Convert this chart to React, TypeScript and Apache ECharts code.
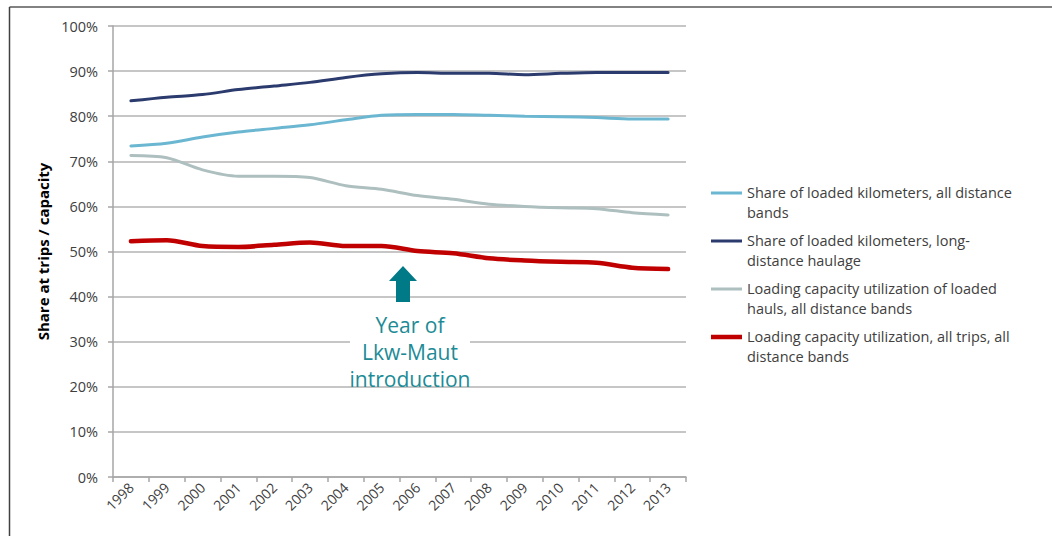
import React, { useEffect, useRef } from "react";
import * as echarts from "echarts";

const years = ["1998","1999","2000","2001","2002","2003","2004","2005","2006","2007","2008","2009","2010","2011","2012","2013"];
const yTicks = [0, 10, 20, 30, 40, 50, 60, 70, 80, 90, 100];

const seriesNames = [
  "Share of loaded kilometers, all distance\nbands",
  "Share of loaded kilometers, long-\ndistance haulage",
  "Loading capacity utilization of loaded\nhauls, all distance bands",
  "Loading capacity utilization, all trips, all\ndistance bands",
];

const shareAll = [73.4, 74.0, 75.4, 76.5, 77.3, 78.1, 79.2, 80.2, 80.4, 80.4, 80.2, 80.0, 79.9, 79.7, 79.4, 79.4];
const shareLong = [83.4, 84.2, 84.8, 85.9, 86.7, 87.5, 88.6, 89.4, 89.7, 89.5, 89.5, 89.2, 89.5, 89.7, 89.7, 89.7];
const utilLoaded = [71.3, 70.8, 68.1, 66.7, 66.7, 66.4, 64.6, 63.8, 62.4, 61.6, 60.5, 60.0, 59.7, 59.5, 58.6, 58.1];
const utilAll = [52.3, 52.5, 51.2, 51.0, 51.5, 52.0, 51.2, 51.2, 50.1, 49.6, 48.5, 48.0, 47.7, 47.5, 46.4, 46.1];

const colors = ["#6BB7D1", "#2C3B6E", "#AEBFBF", "#C00000"];
const widths = [3, 3, 3, 4.5];
const annotationLines = ["Year of", "Lkw-Maut", "introduction"];

const FONT = "'Open Sans', 'Noto Sans', sans-serif";

export default function App() {
  const ref = useRef<HTMLDivElement>(null);
  useEffect(() => {
    if (!ref.current) return;
    const chart = echarts.init(ref.current, undefined, { renderer: "svg" });
    const data = [shareAll, shareLong, utilLoaded, utilAll];
    const iconFor = (t: number) =>
      `path://M0,0h0.01v0.01h-0.01z M6,${9.5 - t / 2}h31v${t}h-31z M37,38h0.01v0.01h-0.01z`;
    chart.setOption({
      animation: false,
      backgroundColor: "#ffffff",
      textStyle: { fontFamily: FONT },
      grid: { left: 113, right: 366, top: 26, bottom: 59, containLabel: false },
      xAxis: {
        type: "category",
        data: years,
        boundaryGap: true,
        axisLine: { lineStyle: { color: "#A6A6A6", width: 1.5 } },
        axisTick: { show: true, length: 5, lineStyle: { color: "#A6A6A6", width: 1.5 } },
        axisLabel: { rotate: 45, color: "#404040", fontSize: 14, margin: 8, fontFamily: FONT, interval: 0 },
        splitLine: { show: false },
      },
      yAxis: {
        type: "value",
        min: 0,
        max: 100,
        interval: 10,
        name: "Share at trips / capacity",
        nameLocation: "middle",
        nameGap: 61,
        nameTextStyle: { color: "#000000", fontSize: 15, fontWeight: "bold", fontFamily: FONT },
        axisLine: { show: true, lineStyle: { color: "#A6A6A6", width: 1.5 } },
        axisTick: { show: true, length: 5, lineStyle: { color: "#A6A6A6", width: 1.5 } },
        axisLabel: {
          color: "#404040",
          fontSize: 14.5,
          margin: 15,
          fontFamily: FONT,
          formatter: (v: number) => (yTicks.includes(v) ? `${v}%` : ""),
        },
        splitLine: { show: true, lineStyle: { color: "#B3B3B3", width: 1.5 } },
      },
      legend: {
        orient: "vertical",
        left: 700,
        top: 178,
        itemWidth: 37,
        itemHeight: 38,
        itemGap: 9,
        textStyle: { color: "#404040", fontSize: 14.5, lineHeight: 19.5, fontFamily: FONT },
        data: seriesNames.map((n, i) => ({ name: n, icon: iconFor(widths[i]), itemStyle: { color: colors[i] } })),
      },
      series: seriesNames.map((n, i) => ({
        name: n,
        type: "line",
        data: data[i],
        smooth: 0.3,
        showSymbol: false,
        symbol: "none",
        lineStyle: { color: colors[i], width: widths[i], cap: "round" },
        itemStyle: { color: colors[i] },
        z: 3 + i,
      })),
      graphic: [
        { type: "line", shape: { x1: 9.5, y1: 7, x2: 1052, y2: 7 }, style: { stroke: "#595959", lineWidth: 1.5 } },
        { type: "line", shape: { x1: 9.5, y1: 7, x2: 9.5, y2: 536 }, style: { stroke: "#404040", lineWidth: 1.5 } },
        {
          type: "polygon",
          shape: { points: [[403, 266], [417, 281], [410, 281], [410, 302], [396, 302], [396, 281], [389, 281]] },
          style: { fill: "#007A87" },
          z: 10,
        },
        { type: "rect", shape: { x: 350, y: 312, width: 120, height: 74 }, style: { fill: "#ffffff" }, z: 10 },
        {
          type: "text",
          x: 410,
          y: 311,
          z: 11,
          style: {
            text: annotationLines.join("\n"),
            fill: "#1C8B96",
            fontSize: 21,
            lineHeight: 27,
            fontFamily: FONT,
            align: "center",
            verticalAlign: "top",
          },
        },
      ],
    });
    return () => chart.dispose();
  }, []);
  return <div ref={ref} style={{ position: "absolute", left: 0, top: 0, width: 1052, height: 536 }} />;
}
